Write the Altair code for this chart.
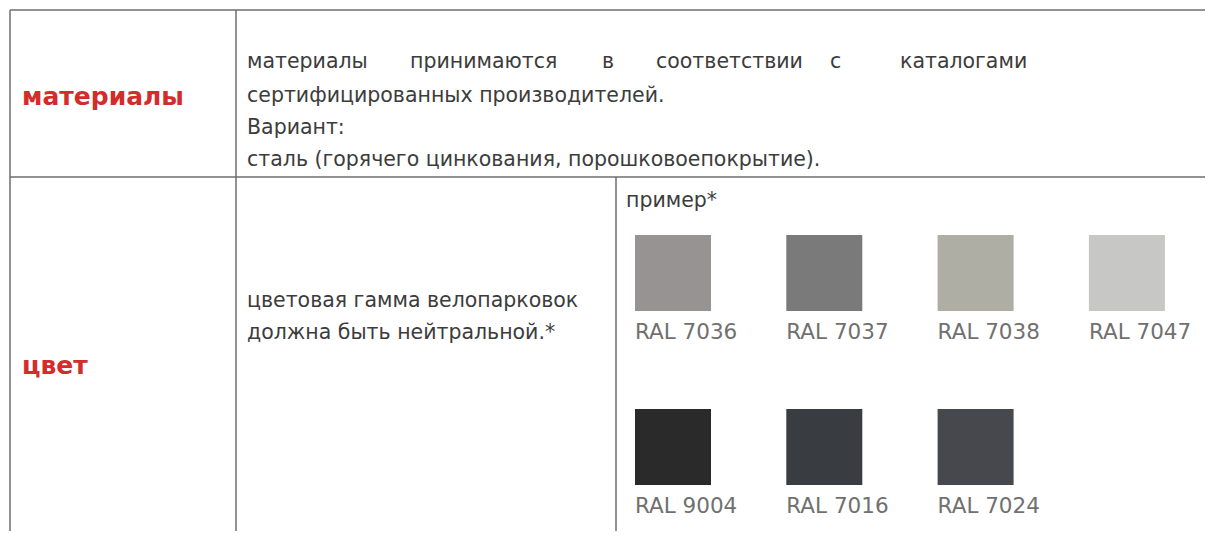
import altair as alt
import pandas as pd

# ---------------- content ----------------
headings = ["материалы", "цвет"]
first_line_words = ["материалы", "принимаются", "в", "соответствии", "с", "каталогами"]
materials_lines = [
    "сертифицированных производителей.",
    "Вариант:",
    "сталь (горячего цинкования, порошковоепокрытие).",
]
color_lines = ["цветовая гамма велопарковок", "должна быть нейтральной.*"]
example_label = "пример*"
ral_codes = ["RAL 7036", "RAL 7037", "RAL 7038", "RAL 7047", "RAL 9004", "RAL 7016", "RAL 7024"]
ral_colors = ["#979392", "#7a7a7a", "#aeaea5", "#c7c7c6", "#2a2a2a", "#393c41", "#47484d"]

# ---------------- layout (pixel grid of the page) ----------------
W, H = 1197, 523
X0, Y0 = 8, 8
xs = alt.Scale(domain=[X0, X0 + W], nice=False, zero=False)
ys = alt.Scale(domain=[Y0, Y0 + H], nice=False, zero=False, reverse=True)

col_left, col_mid, col_sub, right_edge = 10, 236, 616, 1213
row_top, row_mid, bottom_edge = 10, 177, 539
text_x, head_x = 247, 22
word_x = [247, 410, 602, 656, 830, 900]
sw_x0, sw_dx, sw_y0, sw_dy, sw_size = 635, 151.3, 235, 174, 76

FONT = "DejaVu Sans"
TEXT_COL = "#3c3c3c"

grid = pd.DataFrame({
    "x":  [col_left, col_left, col_left, col_mid, col_sub],
    "x2": [right_edge, right_edge, col_left, col_mid, col_sub],
    "y":  [row_top, row_mid, row_top, row_top, row_mid],
    "y2": [row_top, row_mid, bottom_edge, bottom_edge, bottom_edge],
})
lines = alt.Chart(grid).mark_rule(color="#6e6e6e", strokeWidth=1.5).encode(
    x=alt.X("x:Q", scale=xs, axis=None), x2="x2:Q",
    y=alt.Y("y:Q", scale=ys, axis=None), y2="y2:Q",
)

head_df = pd.DataFrame({"t": headings, "x": [head_x, head_x], "y": [97, 366]})
heads = alt.Chart(head_df).mark_text(
    align="left", baseline="middle", font=FONT, fontSize=25, fontWeight="bold", color="#d42b2b"
).encode(x=alt.X("x:Q", scale=xs, axis=None), y=alt.Y("y:Q", scale=ys, axis=None), text="t:N")

para_rows = (
    [{"t": w, "x": wx, "y": 62} for w, wx in zip(first_line_words, word_x)]
    + [{"t": t, "x": text_x, "y": 96 + 32 * i} for i, t in enumerate(materials_lines)]
    + [{"t": t, "x": text_x, "y": 301 + 32 * i} for i, t in enumerate(color_lines)]
    + [{"t": example_label, "x": 626, "y": 201}]
)
para = alt.Chart(pd.DataFrame(para_rows)).mark_text(
    align="left", baseline="middle", font=FONT, fontSize=20.5, color=TEXT_COL
).encode(x=alt.X("x:Q", scale=xs, axis=None), y=alt.Y("y:Q", scale=ys, axis=None), text="t:N")

sw = pd.DataFrame({"code": ral_codes, "color": ral_colors})
sw["col"] = [i % 4 for i in range(len(sw))]
sw["row"] = [i // 4 for i in range(len(sw))]
sw["x"] = sw_x0 + sw["col"] * sw_dx
sw["x2"] = sw["x"] + sw_size
sw["y"] = sw_y0 + sw["row"] * sw_dy
sw["y2"] = sw["y"] + sw_size
sw["ly"] = sw["y2"] + 22

swatches = alt.Chart(sw).mark_rect().encode(
    x=alt.X("x:Q", scale=xs, axis=None), x2="x2:Q",
    y=alt.Y("y:Q", scale=ys, axis=None), y2="y2:Q",
    color=alt.Color("color:N", scale=None),
)
labels = alt.Chart(sw).mark_text(
    align="left", baseline="middle", font=FONT, fontSize=21.5, color="#707070"
).encode(x=alt.X("x:Q", scale=xs, axis=None), y=alt.Y("ly:Q", scale=ys, axis=None), text="code:N")

chart = alt.layer(lines, heads, para, swatches, labels).properties(
    width=W, height=H, padding=0, autosize=alt.AutoSizeParams(type="none"), background="white"
).configure_view(stroke=None)

chart.save("out.html", embed_options={"renderer": "svg", "actions": False})
